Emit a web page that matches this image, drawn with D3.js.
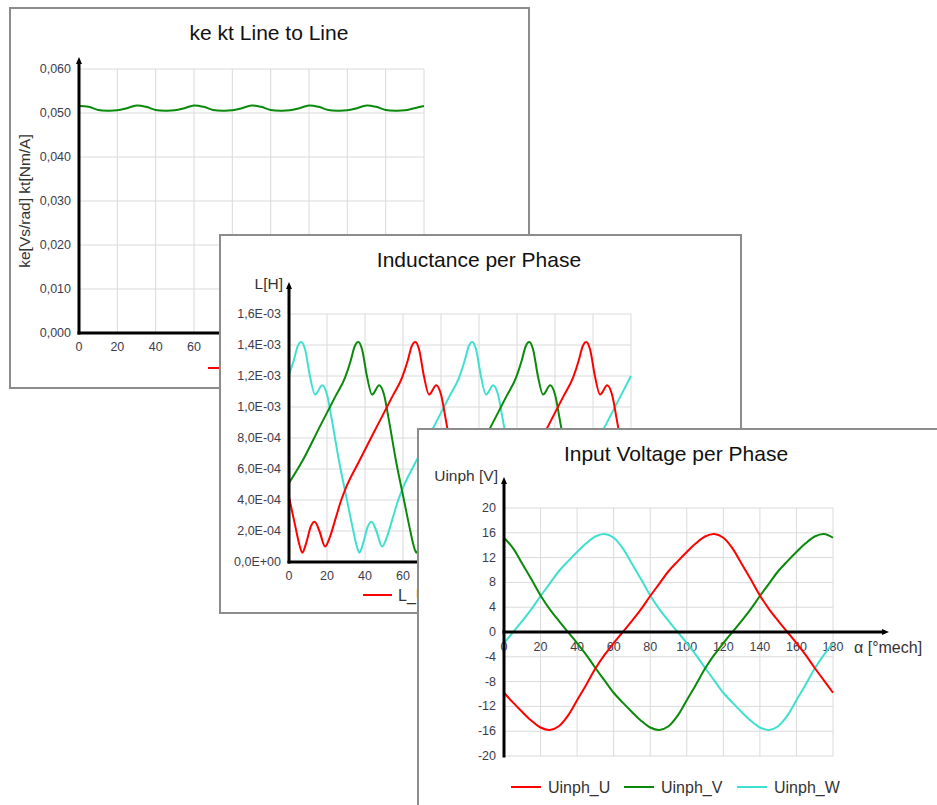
<!DOCTYPE html>
<html><head><meta charset="utf-8">
<script src="https://cdn.jsdelivr.net/npm/d3@7"></script>
<style>
html,body{margin:0;padding:0;background:#fff;overflow:hidden}
svg{display:block}
text{font-family:"Liberation Sans",Arial,sans-serif}
</style>
</head><body>
<svg id="c" width="937" height="805"></svg>
<script>
// ---------- DATA ----------
const xTicks = [0,20,40,60,80,100,120,140,160,180];
const xTickLabels = ["0","20","40","60","80","100","120","140","160","180"];

// Panel 1: ke kt Line to Line
const keAngles = [0,5,10,15,20,25,30,35,40,45,50,55,60,65,70,75,80,85,90,95,100,105,110,115,120,125,130,135,140,145,150,155,160,165,170,175,180];
const keValues = [0.0516,0.0514,0.0507,0.0505,0.0506,0.0511,0.0517,0.0514,0.0507,0.0505,0.0506,0.0511,
                  0.0517,0.0514,0.0507,0.0505,0.0506,0.0511,0.0517,0.0514,0.0507,0.0505,0.0506,0.0511,
                  0.0517,0.0514,0.0507,0.0505,0.0506,0.0511,0.0517,0.0514,0.0507,0.0505,0.0506,0.0511,0.0516];
const keTicks = [0,0.01,0.02,0.03,0.04,0.05,0.06];
const keTickLabels = ["0,000","0,010","0,020","0,030","0,040","0,050","0,060"];

// Panel 2: Inductance per Phase  [angle °mech, L in H]
const L_U = [[0,0.42e-3],[3.5,0.22e-3],[5.5,0.11e-3],[7,0.06e-3],[9,0.12e-3],[11.5,0.23e-3],[13.5,0.26e-3],[16,0.20e-3],[19,0.10e-3],[21.5,0.16e-3],[24.5,0.28e-3],[27.5,0.40e-3],[30,0.48e-3],[36.5,0.64e-3],[46.5,0.88e-3],[54.5,1.07e-3],[59.5,1.19e-3],[62.5,1.30e-3],[64.5,1.39e-3],[66.5,1.42e-3],[68.5,1.37e-3],[71,1.20e-3],[73.7,1.08e-3],[77.5,1.14e-3],[80,1.08e-3],[82.5,0.92e-3],[86.5,0.64e-3],[90.5,0.40e-3],[93.5,0.22e-3],[95.5,0.11e-3],[97,0.06e-3],[99,0.12e-3],[101.5,0.23e-3],[103.5,0.26e-3],[106,0.20e-3],[109,0.10e-3],[111.5,0.16e-3],[114.5,0.28e-3],[117.5,0.40e-3],[120,0.48e-3],[126.5,0.64e-3],[136.5,0.88e-3],[144.5,1.07e-3],[149.5,1.19e-3],[152.5,1.30e-3],[154.5,1.39e-3],[156.5,1.42e-3],[158.5,1.37e-3],[161,1.20e-3],[163.7,1.08e-3],[167.5,1.14e-3],[170,1.08e-3],[172.5,0.92e-3],[176.5,0.64e-3],[180,0.43e-3]];
const L_V = [[0,0.51e-3],[6.5,0.64e-3],[16.5,0.88e-3],[24.5,1.07e-3],[29.5,1.19e-3],[32.5,1.30e-3],[34.5,1.39e-3],[36.5,1.42e-3],[38.5,1.37e-3],[41,1.20e-3],[43.7,1.08e-3],[47.5,1.14e-3],[50,1.08e-3],[52.5,0.92e-3],[56.5,0.64e-3],[60.5,0.40e-3],[63.5,0.22e-3],[65.5,0.11e-3],[67,0.06e-3],[69,0.12e-3],[71.5,0.23e-3],[73.5,0.26e-3],[76,0.20e-3],[79,0.10e-3],[81.5,0.16e-3],[84.5,0.28e-3],[87.5,0.40e-3],[90,0.48e-3],[96.5,0.64e-3],[106.5,0.88e-3],[114.5,1.07e-3],[119.5,1.19e-3],[122.5,1.30e-3],[124.5,1.39e-3],[126.5,1.42e-3],[128.5,1.37e-3],[131,1.20e-3],[133.7,1.08e-3],[137.5,1.14e-3],[140,1.08e-3],[142.5,0.92e-3],[146.5,0.64e-3],[150.5,0.40e-3],[153.5,0.22e-3],[155.5,0.11e-3],[157,0.06e-3],[159,0.12e-3],[161.5,0.23e-3],[163.5,0.26e-3],[166,0.20e-3],[169,0.10e-3],[171.5,0.16e-3],[174.5,0.28e-3],[177.5,0.40e-3],[180,0.48e-3]];
const L_W = [[0,1.21e-3],[2.5,1.30e-3],[4.5,1.39e-3],[6.5,1.42e-3],[8.5,1.37e-3],[11,1.20e-3],[13.7,1.08e-3],[17.5,1.14e-3],[20,1.08e-3],[22.5,0.92e-3],[26.5,0.64e-3],[30.5,0.40e-3],[33.5,0.22e-3],[35.5,0.11e-3],[37,0.06e-3],[39,0.12e-3],[41.5,0.23e-3],[43.5,0.26e-3],[46,0.20e-3],[49,0.10e-3],[51.5,0.16e-3],[54.5,0.28e-3],[57.5,0.40e-3],[60,0.48e-3],[66.5,0.64e-3],[76.5,0.88e-3],[84.5,1.07e-3],[89.5,1.19e-3],[92.5,1.30e-3],[94.5,1.39e-3],[96.5,1.42e-3],[98.5,1.37e-3],[101,1.20e-3],[103.7,1.08e-3],[107.5,1.14e-3],[110,1.08e-3],[112.5,0.92e-3],[116.5,0.64e-3],[120.5,0.40e-3],[123.5,0.22e-3],[125.5,0.11e-3],[127,0.06e-3],[129,0.12e-3],[131.5,0.23e-3],[133.5,0.26e-3],[136,0.20e-3],[139,0.10e-3],[141.5,0.16e-3],[144.5,0.28e-3],[147.5,0.40e-3],[150,0.48e-3],[156.5,0.64e-3],[166.5,0.88e-3],[174.5,1.07e-3],[180,1.20e-3]];
const LTicks = [0,0.2e-3,0.4e-3,0.6e-3,0.8e-3,1.0e-3,1.2e-3,1.4e-3,1.6e-3];
const LTickLabels = ["0,0E+00","2,0E-04","4,0E-04","6,0E-04","8,0E-04","1,0E-03","1,2E-03","1,4E-03","1,6E-03"];

// Panel 3: Input Voltage per Phase
const uAngles = [0,5,10,15,20,25,30,35,40,45,50,55,60,65,70,75,80,85,90,95,100,105,110,115,120,125,130,135,140,145,150,155,160,165,170,175,180];
const Uinph_U = [-9.8,-11.4,-12.9,-14.3,-15.4,-15.8,-15.2,-13.5,-11.0,-8.5,-5.9,-3.7,-1.8,0.0,1.8,3.7,5.8,7.8,9.8,11.4,12.9,14.3,15.4,15.8,15.2,13.5,11.0,8.5,5.9,3.7,1.8,0.0,-1.8,-3.7,-5.8,-7.8,-9.8];
const Uinph_V = [15.2,13.5,11.0,8.5,5.9,3.7,1.8,0.0,-1.8,-3.7,-5.8,-7.8,-9.8,-11.4,-12.9,-14.3,-15.4,-15.8,-15.2,-13.5,-11.0,-8.5,-5.9,-3.7,-1.8,0.0,1.8,3.7,5.8,7.8,9.8,11.4,12.9,14.3,15.4,15.8,15.2];
const Uinph_W = [-1.8,0.0,1.8,3.7,5.8,7.8,9.8,11.4,12.9,14.3,15.4,15.8,15.2,13.5,11.0,8.5,5.9,3.7,1.8,0.0,-1.8,-3.7,-5.8,-7.8,-9.8,-11.4,-12.9,-14.3,-15.4,-15.8,-15.2,-13.5,-11.0,-8.5,-5.9,-3.7,-1.8];
const UTicks = [-20,-16,-12,-8,-4,0,4,8,12,16,20];
const UTickLabels = ["-20","-16","-12","-8","-4","0","4","8","12","16","20"];
const legendNames = ["Uinph_U","Uinph_V","Uinph_W"];

// ---------- STYLE ----------
const RED = "#ff0000", GREEN = "#0a8a0a", CYAN = "#40e0d0";
const GRID = "#dadada", FRAME = "#8c8c8c", LABEL = "#3c3c4c";

const svg = d3.select("#c");

function drawPanel(cfg) {
  const g = svg.append("g");
  const f = cfg.frame;
  g.append("rect").attr("x", f.x).attr("y", f.y).attr("width", f.w).attr("height", f.h)
    .attr("fill", "#fff").attr("stroke", FRAME).attr("stroke-width", 2);
  g.append("text").attr("x", cfg.titleX).attr("y", f.y + 24)
    .attr("text-anchor", "middle").attr("dominant-baseline", "central")
    .attr("font-size", 21).attr("fill", "#111").text(cfg.title);

  const p = cfg.plot;
  const x = d3.scaleLinear().domain([0, 180]).range([p.left, p.right]);
  const y = d3.scaleLinear().domain(cfg.yDomain).range([p.bottom, p.top]);

  // grid
  g.append("g").selectAll("line").data(cfg.yTicks).join("line")
    .attr("x1", p.left).attr("x2", p.right).attr("y1", d => y(d)).attr("y2", d => y(d))
    .attr("stroke", GRID).attr("stroke-width", 1);
  g.append("g").selectAll("line").data(xTicks).join("line")
    .attr("x1", d => x(d)).attr("x2", d => x(d)).attr("y1", p.top).attr("y2", p.bottom)
    .attr("stroke", GRID).attr("stroke-width", 1);

  // tick labels
  g.append("g").selectAll("text").data(cfg.yTicks).join("text")
    .attr("x", p.left - 8).attr("y", d => y(d))
    .attr("text-anchor", "end").attr("dominant-baseline", "central")
    .attr("font-size", 12.5).attr("fill", LABEL)
    .text((d, i) => cfg.yTickLabels[i]);
  const axisY = y(cfg.xAxisAt);
  // only the x tick labels that are not hidden behind the next window
  const visX = xTicks.map((d, i) => ({d, i})).filter(o => o.d <= cfg.xLabelMax);
  g.append("g").selectAll("text").data(visX).join("text")
    .attr("x", o => x(o.d)).attr("y", axisY + cfg.xLabelOff)
    .attr("text-anchor", "middle").attr("dominant-baseline", "central")
    .attr("font-size", 12.5).attr("fill", LABEL)
    .text(o => xTickLabels[o.i]);

  // series
  cfg.series.forEach(s => {
    const line = d3.line().x(d => x(d[0])).y(d => y(d[1])).curve(cfg.curve);
    g.append("path").datum(s.pts).attr("d", line)
      .attr("fill", "none").attr("stroke", s.color).attr("stroke-width", 2);
  });

  // axes
  const yTop = cfg.yArrowTip;
  g.append("line").attr("x1", p.left).attr("x2", p.left).attr("y1", yTop + 4).attr("y2", p.bottom + 1.5)
    .attr("stroke", "#000").attr("stroke-width", 3);
  g.append("path").attr("d", `M${p.left},${yTop} L${p.left - 3},${yTop + 7} L${p.left + 3},${yTop + 7} Z`).attr("fill", "#000");
  const xEnd = cfg.xArrowTip;
  g.append("line").attr("x1", p.left - 1.5).attr("x2", xEnd - 4).attr("y1", axisY).attr("y2", axisY)
    .attr("stroke", "#000").attr("stroke-width", 3);
  g.append("path").attr("d", `M${xEnd},${axisY} L${xEnd - 7},${axisY - 3} L${xEnd - 7},${axisY + 3} Z`).attr("fill", "#000");

  if (cfg.extra) cfg.extra(g, x, y);
  return g;
}

// Panel 1
drawPanel({
  frame: {x: 10, y: 8, w: 519, h: 380}, title: "ke kt Line to Line", titleX: 269,
  plot: {left: 79, right: 424, top: 69, bottom: 333},
  yDomain: [0, 0.06], yTicks: keTicks, yTickLabels: keTickLabels, xAxisAt: 0, xLabelOff: 14, xLabelMax: 60,
  yArrowTip: 57, xArrowTip: 470, curve: d3.curveCatmullRom,
  series: [{color: GREEN, pts: keAngles.map((a, i) => [a, keValues[i]])}],
  extra: (g) => {
    g.append("text").attr("transform", "translate(24,201) rotate(-90)")
      .attr("text-anchor", "middle").attr("dominant-baseline", "central")
      .attr("font-size", 15.5).attr("fill", "#333").text("ke[Vs/rad] kt[Nm/A]");
    g.append("line").attr("x1", 208).attr("x2", 238).attr("y1", 368).attr("y2", 368)
      .attr("stroke", RED).attr("stroke-width", 2);
  }
});

// Panel 2
drawPanel({
  frame: {x: 220, y: 235, w: 521, h: 378}, title: "Inductance per Phase", titleX: 479,
  plot: {left: 289, right: 631, top: 314, bottom: 562},
  yDomain: [0, 1.6e-3], yTicks: LTicks, yTickLabels: LTickLabels, xAxisAt: 0, xLabelOff: 14, xLabelMax: 60,
  yArrowTip: 282, xArrowTip: 680, curve: d3.curveMonotoneX,
  series: [{color: CYAN, pts: L_W}, {color: GREEN, pts: L_V}, {color: RED, pts: L_U}],
  extra: (g) => {
    g.append("text").attr("x", 283).attr("y", 283).attr("text-anchor", "end")
      .attr("dominant-baseline", "central").attr("font-size", 15.5).attr("fill", "#333").text("L[H]");
    g.append("line").attr("x1", 363).attr("x2", 392).attr("y1", 595).attr("y2", 595)
      .attr("stroke", RED).attr("stroke-width", 2);
    g.append("text").attr("x", 398).attr("y", 595).attr("dominant-baseline", "central")
      .attr("font-size", 16).attr("fill", "#333").text("L_U");
  }
});

// Panel 3
drawPanel({
  frame: {x: 418, y: 429, w: 530, h: 400}, title: "Input Voltage per Phase", titleX: 676,
  plot: {left: 504, right: 833, top: 508, bottom: 756},
  yDomain: [-20, 20], yTicks: UTicks, yTickLabels: UTickLabels, xAxisAt: 0, xLabelOff: 15, xLabelMax: 180,
  yArrowTip: 477, xArrowTip: 889, curve: d3.curveCatmullRom,
  series: [
    {color: CYAN, pts: uAngles.map((a, i) => [a, Uinph_W[i]])},
    {color: GREEN, pts: uAngles.map((a, i) => [a, Uinph_V[i]])},
    {color: RED, pts: uAngles.map((a, i) => [a, Uinph_U[i]])}
  ],
  extra: (g) => {
    g.append("text").attr("x", 498).attr("y", 475).attr("text-anchor", "end")
      .attr("dominant-baseline", "central").attr("font-size", 15.5).attr("fill", "#333").text("Uinph [V]");
    g.append("text").attr("x", 854).attr("y", 647)
      .attr("dominant-baseline", "central").attr("font-size", 16).attr("fill", "#333").text("α [°mech]");
    const cols = [RED, GREEN, CYAN];
    const lx = [511, 624, 737];
    legendNames.forEach((n, i) => {
      g.append("line").attr("x1", lx[i]).attr("x2", lx[i] + 30).attr("y1", 787).attr("y2", 787)
        .attr("stroke", cols[i]).attr("stroke-width", 2);
      g.append("text").attr("x", lx[i] + 37).attr("y", 787).attr("dominant-baseline", "central")
        .attr("font-size", 16).attr("fill", "#333").text(n);
    });
  }
});
</script>
</body></html>
